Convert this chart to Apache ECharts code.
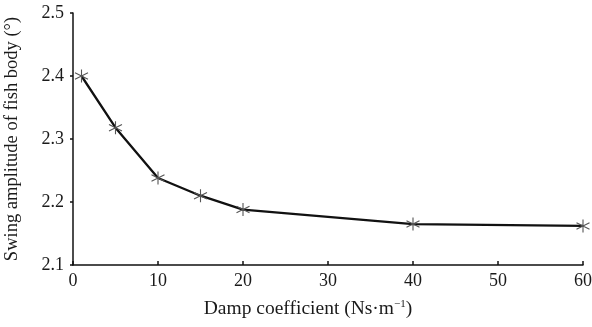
<!DOCTYPE html>
<html>
<head>
<meta charset="utf-8">
<script src="https://cdn.jsdelivr.net/npm/echarts@6/dist/echarts.min.js"></script>
<style>
  html, body { margin: 0; padding: 0; background: #fff; }
  #chart { width: 592px; height: 327px; }
</style>
</head>
<body>
<div id="chart"></div>
<script>
// damp coefficient (Ns/m) and swing amplitude (deg)
const damp = [1, 5, 10, 15, 20, 40, 60]
const amplitude = [2.40, 2.318, 2.238, 2.21, 2.188, 2.165, 2.162]
const xTicks = [0, 60, 10]
const yTicks = [2.1, 2.5, 0.1]

const font = 'Liberation Serif'
const ink = '#1a1a1a'
const chart = echarts.init(document.getElementById('chart'))

// asterisk marker
const star = 'path://M0,-10L0,10M-8.66,-5L8.66,5M-8.66,5L8.66,-5'

chart.setOption({
  animation: false,
  grid: { left: 73, right: 9, top: 13, bottom: 62, outerBoundsMode: 'none' },
  xAxis: {
    type: 'value',
    min: xTicks[0],
    max: xTicks[1],
    interval: xTicks[2],
    name: 'Damp coefficient (Ns·m{sup|−1})',
    nameLocation: 'middle',
    nameGap: 34,
    nameTextStyle: {
      fontFamily: font, fontSize: 19.5, color: ink,
      padding: [0, 40, 0, 0],
      rich: { sup: { fontFamily: font, fontSize: 11, color: ink, verticalAlign: 'top', padding: [0, 0, 9, 0] } }
    },
    axisLine: { lineStyle: { color: '#111', width: 1.5 } },
    axisTick: { inside: true, length: 4, lineStyle: { color: '#111', width: 1.5 } },
    axisLabel: { fontFamily: font, fontSize: 18, color: ink, margin: 7 },
    splitLine: { show: false }
  },
  yAxis: {
    type: 'value',
    min: yTicks[0],
    max: yTicks[1],
    interval: yTicks[2],
    name: 'Swing amplitude of fish body (°)',
    nameLocation: 'middle',
    nameGap: 51,
    nameTextStyle: { fontFamily: font, fontSize: 18.5, color: ink },
    axisLine: { lineStyle: { color: '#111', width: 1.5 } },
    axisTick: { length: 3, lineStyle: { color: '#111', width: 1.5 } },
    axisLabel: {
      fontFamily: font, fontSize: 18, color: ink, margin: 9,
      formatter: v => v.toFixed(1)
    },
    splitLine: { show: false }
  },
  series: [{
    type: 'line',
    data: damp.map((d, i) => [d, amplitude[i]]),
    symbol: star,
    symbolSize: 13,
    showAllSymbol: true,
    lineStyle: { color: '#111', width: 2.3 },
    itemStyle: { color: 'rgba(0,0,0,0)', borderColor: '#555', borderWidth: 1.1 }
  }]
})
</script>
</body>
</html>
